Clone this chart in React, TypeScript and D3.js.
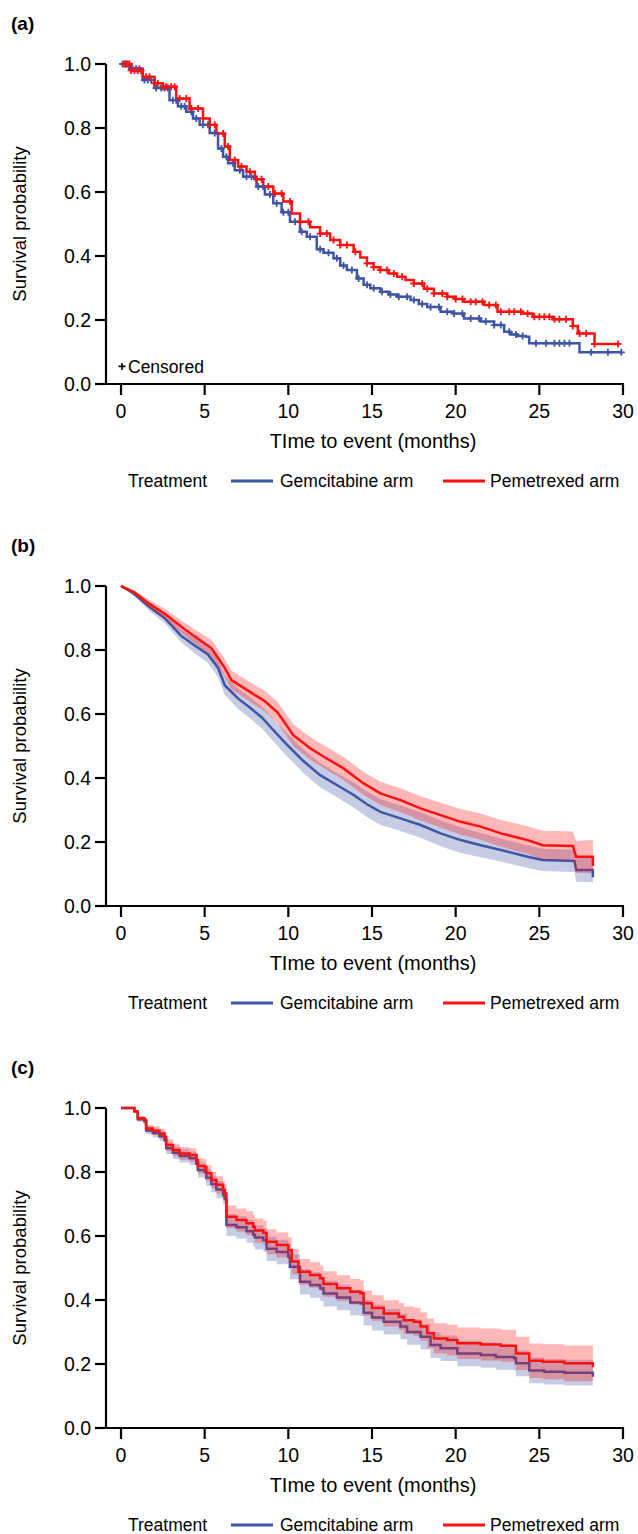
import React from "react";
import * as d3 from "d3";

// panel (a): Kaplan-Meier estimates, step points
const gemAT = [0, 0.5, 1.3, 2.0, 2.9, 3.4, 3.9, 4.3, 4.7, 5.3, 5.8, 6.1, 6.4, 6.8, 7.3, 8.1, 8.6, 9.1, 9.6, 10.1, 10.7, 11.1, 11.7, 12.1, 12.7, 13.1, 13.5, 14.1, 14.5, 14.9, 15.5, 16.0, 16.5, 17.3, 17.8, 18.3, 19.1, 19.9, 20.5, 21.5, 22.3, 22.9, 23.3, 23.7, 24.2, 24.4, 27.4, 29.9];
const gemAS = [1.0, 0.985, 0.95, 0.925, 0.887, 0.868, 0.851, 0.83, 0.81, 0.784, 0.736, 0.71, 0.69, 0.668, 0.648, 0.617, 0.592, 0.565, 0.537, 0.507, 0.476, 0.46, 0.421, 0.41, 0.393, 0.37, 0.356, 0.33, 0.31, 0.299, 0.288, 0.28, 0.273, 0.2625, 0.25, 0.241, 0.226, 0.22, 0.205, 0.195, 0.184, 0.163, 0.155, 0.15, 0.148, 0.127, 0.099, 0.099];
const pemAT = [0, 0.6, 1.3, 2.0, 2.5, 3.3, 4.1, 4.9, 5.3, 5.7, 6.2, 6.5, 7.0, 7.5, 8.0, 8.5, 9.1, 9.7, 10.2, 10.7, 11.3, 11.9, 12.5, 13.1, 13.9, 14.3, 14.7, 15.1, 15.5, 16.0, 16.5, 17.0, 17.5, 18.1, 18.7, 19.5, 20.0, 20.5, 21.7, 22.5, 24.0, 24.6, 25.8, 27.0, 27.3, 28.3, 29.7];
const pemAS = [1.0, 0.98, 0.96, 0.94, 0.929, 0.892, 0.861, 0.83, 0.81, 0.783, 0.742, 0.70, 0.68, 0.663, 0.64, 0.617, 0.595, 0.57, 0.533, 0.507, 0.49, 0.47, 0.45, 0.434, 0.413, 0.395, 0.377, 0.365, 0.356, 0.345, 0.335, 0.325, 0.314, 0.298, 0.283, 0.273, 0.266, 0.257, 0.247, 0.226, 0.22, 0.21, 0.202, 0.181, 0.158, 0.125, 0.125];
const gemACens = [0.1, 0.3, 0.4, 0.7, 0.9, 1.1, 1.4, 1.6, 1.8, 2.1, 2.4, 2.6, 2.8, 3.1, 3.3, 3.6, 3.8, 4.2, 4.5, 4.9, 5.2, 5.6, 6.0, 6.3, 6.7, 7.1, 7.5, 7.8, 8.2, 8.5, 8.9, 9.3, 9.7, 10.0, 10.4, 10.8, 11.3, 11.9, 12.4, 12.9, 13.3, 13.8, 14.2, 14.7, 15.1, 15.6, 16.1, 16.6, 17.1, 17.5, 18.0, 18.5, 19.0, 19.5, 19.9, 20.4, 20.9, 21.4, 21.8, 22.3, 22.7, 23.2, 23.6, 24.0, 24.8, 25.4, 25.9, 26.2, 26.5, 26.8, 28.1, 29.1, 29.9];
const pemACens = [0.2, 0.3, 0.5, 0.6, 0.8, 1.0, 1.2, 1.5, 1.7, 2.0, 2.2, 2.5, 2.7, 3.0, 3.2, 3.5, 3.9, 4.2, 4.6, 4.9, 5.3, 5.6, 6.1, 6.4, 6.8, 7.2, 7.7, 8.1, 8.4, 8.8, 9.2, 9.6, 10.1, 10.7, 11.2, 11.9, 12.3, 12.7, 13.1, 13.5, 14.0, 14.7, 15.1, 15.5, 15.9, 16.3, 16.8, 17.5, 18.0, 18.3, 18.7, 19.2, 19.5, 20.0, 20.4, 20.9, 21.2, 21.6, 22.0, 22.4, 22.7, 23.2, 23.5, 23.9, 24.3, 24.7, 25.0, 25.3, 25.6, 25.9, 26.2, 26.6, 27.0, 27.4, 27.8, 28.3, 29.7];

// panel (b): smooth model estimates with confidence band half-widths
const gemBT = [0, 0.8, 1.7, 2.6, 3.6, 4.4, 5.2, 5.8, 6.2, 7.0, 7.7, 8.4, 9.1, 9.9, 10.9, 11.9, 12.9, 13.9, 14.7, 15.5, 16.7, 17.9, 19.1, 20.3, 21.5, 22.7, 24.3, 25.2, 27.1, 27.2, 28.2, 28.2];
const gemBS = [1.0, 0.975, 0.934, 0.9, 0.844, 0.814, 0.786, 0.744, 0.69, 0.648, 0.62, 0.59, 0.55, 0.505, 0.453, 0.409, 0.378, 0.347, 0.318, 0.294, 0.274, 0.253, 0.227, 0.206, 0.19, 0.175, 0.154, 0.144, 0.141, 0.1125, 0.1125, 0.09];
const gemBW = [0, 0.006, 0.012, 0.016, 0.02, 0.024, 0.027, 0.029, 0.03, 0.032, 0.033, 0.034, 0.035, 0.036, 0.037, 0.038, 0.038, 0.039, 0.04, 0.04, 0.04, 0.04, 0.04, 0.04, 0.038, 0.036, 0.035, 0.035, 0.035, 0.037, 0.038, 0.03];
const pemBT = [0, 0.8, 1.7, 2.7, 3.8, 4.6, 5.4, 6.2, 6.6, 7.8, 8.6, 9.35, 10.3, 11.3, 12.3, 13.3, 14.5, 15.5, 16.7, 17.9, 19.1, 20.3, 21.5, 22.7, 24.3, 25.2, 27.0, 27.2, 28.2, 28.2];
const pemBS = [1.0, 0.98, 0.944, 0.91, 0.865, 0.835, 0.806, 0.744, 0.706, 0.666, 0.64, 0.605, 0.534, 0.493, 0.461, 0.43, 0.383, 0.352, 0.331, 0.305, 0.284, 0.263, 0.248, 0.227, 0.206, 0.19, 0.1875, 0.154, 0.154, 0.125];
const pemBW = [0, 0.006, 0.012, 0.016, 0.02, 0.023, 0.026, 0.028, 0.029, 0.031, 0.032, 0.033, 0.034, 0.035, 0.036, 0.036, 0.036, 0.036, 0.037, 0.038, 0.039, 0.04, 0.041, 0.042, 0.043, 0.045, 0.045, 0.05, 0.052, 0.05];

// panel (c): stepped estimates with confidence band half-widths
const gemCT = [0, 0.8, 1.0, 1.4, 1.5, 1.9, 2.3, 2.6, 2.7, 3.1, 3.5, 4.1, 4.5, 4.6, 5.0, 5.1, 5.4, 5.7, 6.1, 6.2, 6.3, 6.9, 7.5, 7.9, 8.0, 8.5, 8.7, 9.3, 10.0, 10.1, 10.7, 11.3, 11.9, 12.1, 12.9, 13.7, 14.3, 14.5, 15.0, 15.7, 16.7, 17.1, 17.9, 18.5, 19.1, 20.1, 21.5, 22.4, 23.5, 23.6, 24.4, 25.3, 26.5, 28.2];
const gemCS = [1.0, 0.99, 0.965, 0.958, 0.93, 0.922, 0.912, 0.9, 0.874, 0.86, 0.85, 0.843, 0.826, 0.806, 0.8, 0.782, 0.762, 0.745, 0.728, 0.716, 0.634, 0.627, 0.615, 0.604, 0.595, 0.5875, 0.56, 0.55, 0.535, 0.504, 0.457, 0.447, 0.437, 0.42, 0.408, 0.392, 0.39, 0.36, 0.345, 0.332, 0.317, 0.30, 0.285, 0.259, 0.249, 0.233, 0.228, 0.222, 0.218, 0.202, 0.18, 0.176, 0.173, 0.16];
const gemCW = [0, 0.004, 0.008, 0.01, 0.012, 0.014, 0.015, 0.016, 0.018, 0.019, 0.02, 0.021, 0.022, 0.023, 0.024, 0.025, 0.026, 0.027, 0.028, 0.029, 0.034, 0.035, 0.036, 0.036, 0.037, 0.037, 0.038, 0.038, 0.039, 0.039, 0.04, 0.04, 0.04, 0.04, 0.04, 0.04, 0.04, 0.04, 0.04, 0.04, 0.04, 0.04, 0.04, 0.04, 0.04, 0.04, 0.04, 0.04, 0.04, 0.04, 0.04, 0.04, 0.04, 0.04];
const pemCT = [0, 0.8, 1.0, 1.4, 1.5, 1.9, 2.3, 2.6, 2.7, 3.1, 3.5, 4.1, 4.5, 4.6, 5.0, 5.1, 5.4, 5.7, 6.1, 6.2, 6.3, 6.9, 7.5, 7.9, 8.0, 8.5, 8.7, 9.3, 10.0, 10.2, 10.6, 11.3, 11.9, 12.1, 12.9, 13.7, 14.3, 14.5, 15.0, 15.7, 16.6, 16.9, 17.5, 17.9, 18.3, 18.7, 19.5, 20.1, 21.5, 22.7, 23.6, 24.4, 25.2, 26.5, 28.2];
const pemCS = [1.0, 0.99, 0.968, 0.9625, 0.936, 0.929, 0.92, 0.91, 0.884, 0.869, 0.858, 0.853, 0.8375, 0.819, 0.815, 0.796, 0.775, 0.76, 0.744, 0.733, 0.66, 0.65, 0.64, 0.629, 0.617, 0.61, 0.582, 0.572, 0.556, 0.52, 0.488, 0.478, 0.468, 0.45, 0.437, 0.426, 0.421, 0.39, 0.375, 0.358, 0.348, 0.337, 0.332, 0.317, 0.296, 0.28, 0.275, 0.265, 0.261, 0.257, 0.233, 0.21, 0.207, 0.202, 0.19];
const pemCW = [0, 0.004, 0.008, 0.01, 0.012, 0.014, 0.015, 0.016, 0.018, 0.019, 0.02, 0.021, 0.022, 0.023, 0.024, 0.025, 0.026, 0.027, 0.028, 0.029, 0.035, 0.036, 0.037, 0.037, 0.038, 0.038, 0.039, 0.039, 0.04, 0.04, 0.04, 0.04, 0.04, 0.04, 0.04, 0.04, 0.04, 0.04, 0.04, 0.041, 0.042, 0.043, 0.044, 0.045, 0.046, 0.047, 0.048, 0.049, 0.05, 0.05, 0.052, 0.054, 0.055, 0.056, 0.057];

const xTicks = [0, 5, 10, 15, 20, 25, 30];
const yTicks = [0, 0.2, 0.4, 0.6, 0.8, 1.0];
const panelLabels = ["(a)", "(b)", "(c)"];
const armNames = ["Gemcitabine arm", "Pemetrexed arm"];

const BLUE = "#3f55a5";
const RED = "#ff1010";
const FONT = "'Liberation Sans', Arial, Helvetica, sans-serif";
const PANEL_H = 522;

const x = d3.scaleLinear().domain([0, 30]).range([121, 623]);
const AXIS_X = 106;

function toPts(t, s, w?) {
  return t.map((d, i) => ({ t: d, s: s[i], w: w ? w[i] : 0 }));
}

function stepAt(t, s, time) {
  const i = d3.bisectRight(t, time) - 1;
  return s[Math.max(0, i)];
}

function Panel({ index, curve, series, censored }) {
  const off = index * PANEL_H;
  const y = d3.scaleLinear().domain([0, 1]).range([384 + off, 64 + off]);
  const line = d3.line().x((d) => x(d.t)).y((d) => y(d.s)).curve(curve);
  const area = d3.area().x((d) => x(d.t)).y0((d) => y(d.s - d.w)).y1((d) => y(d.s + d.w)).curve(curve);

  return (
    <g>
      <text x={11} y={30 + off} fontFamily={FONT} fontSize={19} fontWeight="bold">{panelLabels[index]}</text>

      {series.map((sr, k) => (
        <g key={k}>
          {sr.band && <path d={area(sr.pts)} fill={sr.color} fillOpacity={0.3} stroke="none" />}
          <path d={line(sr.pts)} fill="none" stroke={sr.color} strokeWidth={2.5} />
        </g>
      ))}

      {censored && censored.map((c, k) => (
        <g key={k} stroke={c.color} strokeWidth={1.8}>
          {c.times.map((tm, j) => {
            const cx = x(tm);
            const cy = y(stepAt(c.t, c.s, tm));
            return <path key={j} d={`M${cx - 3.5},${cy}H${cx + 3.5}M${cx},${cy - 3.5}V${cy + 3.5}`} />;
          })}
        </g>
      ))}

      {censored && (
        <g>
          <path d={`M${118.5},${y(0.055)}H${125.5}M122,${y(0.055) - 3.5}V${y(0.055) + 3.5}`} stroke="#000" strokeWidth={1.6} />
          <text x={128} y={y(0.055) + 6.5} fontFamily={FONT} fontSize={17.5}>Censored</text>
        </g>
      )}

      {/* y axis */}
      <line x1={AXIS_X} x2={AXIS_X} y1={y(1)} y2={y(0)} stroke="#000" strokeWidth={2.2} />
      {yTicks.map((v) => (
        <g key={v}>
          <line x1={AXIS_X - 11} x2={AXIS_X} y1={y(v)} y2={y(v)} stroke="#000" strokeWidth={2.2} />
          <text x={91} y={y(v)} dy="0.36em" textAnchor="end" fontFamily={FONT} fontSize={19.5}>{d3.format(".1f")(v)}</text>
        </g>
      ))}
      <text transform={`translate(26,${224 + off}) rotate(-90)`} textAnchor="middle" fontFamily={FONT} fontSize={18.5}>Survival probability</text>

      {/* x axis */}
      <line x1={AXIS_X} x2={x(30) + 1} y1={y(0)} y2={y(0)} stroke="#000" strokeWidth={2.2} />
      {xTicks.map((v) => (
        <g key={v}>
          <line x1={x(v)} x2={x(v)} y1={y(0)} y2={y(0) + 11} stroke="#000" strokeWidth={2.2} />
          <text x={x(v)} y={y(0) + 34} textAnchor="middle" fontFamily={FONT} fontSize={19.5}>{v}</text>
        </g>
      ))}
      <text x={373} y={448 + off} textAnchor="middle" fontFamily={FONT} fontSize={20}>TIme to event (months)</text>

      {/* legend */}
      <g fontFamily={FONT} fontSize={17.5}>
        <text x={128} y={487 + off}>Treatment</text>
        <line x1={231} x2={273} y1={481 + off} y2={481 + off} stroke={BLUE} strokeWidth={3} />
        <text x={280} y={487 + off}>{armNames[0]}</text>
        <line x1={443} x2={485} y1={481 + off} y2={481 + off} stroke={RED} strokeWidth={3} />
        <text x={490} y={487 + off}>{armNames[1]}</text>
      </g>
    </g>
  );
}

export default function App() {
  const seriesA = [
    { color: BLUE, pts: toPts(gemAT, gemAS), band: false },
    { color: RED, pts: toPts(pemAT, pemAS), band: false },
  ];
  const censA = [
    { color: BLUE, t: gemAT, s: gemAS, times: gemACens },
    { color: RED, t: pemAT, s: pemAS, times: pemACens },
  ];
  const seriesB = [
    { color: BLUE, pts: toPts(gemBT, gemBS, gemBW), band: true },
    { color: RED, pts: toPts(pemBT, pemBS, pemBW), band: true },
  ];
  const seriesC = [
    { color: BLUE, pts: toPts(gemCT, gemCS, gemCW), band: true },
    { color: RED, pts: toPts(pemCT, pemCS, pemCW), band: true },
  ];

  return (
    <svg width={638} height={1534} style={{ position: "absolute", left: 0, top: 0, background: "#fff" }}>
      <Panel index={0} curve={d3.curveStepAfter} series={seriesA} censored={censA} />
      <Panel index={1} curve={d3.curveLinear} series={seriesB} censored={null} />
      <Panel index={2} curve={d3.curveStepAfter} series={seriesC} censored={null} />
    </svg>
  );
}
